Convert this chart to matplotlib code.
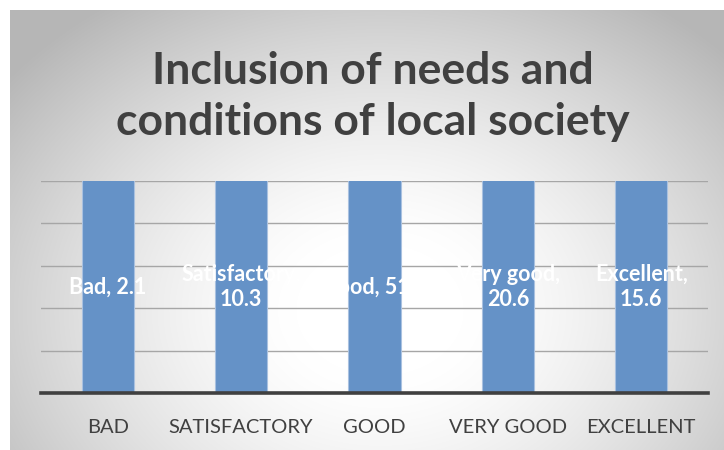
import matplotlib.pyplot as plt
import numpy as np

# data
categories = ["Bad", "Satisfactory", "Good", "Very good", "Excellent"]
values = [2.1, 10.3, 51.4, 20.6, 15.6]
axis_top = 1.0   # axis max is fixed low in the original, so every bar is cut off

plt.rcParams['font.family'] = ['Lato', 'DejaVu Sans']

fig = plt.figure(figsize=(7.24, 4.5), dpi=100)

# grey radial background panel, white in the middle
bg = fig.add_axes([10 / 724, 0, 1 - 10 / 724, 440 / 450])
yy, xx = np.mgrid[0:440, 0:714]
cx, cy = 370, 300
r = np.sqrt(((xx - cx) / 420.0) ** 2 + ((yy - cy) / 330.0) ** 2)
t = np.clip((r - 0.2) / 0.85, 0, 1.1)
shade = np.clip(1.0 - 0.25 * t ** 1.4, 0, 1)
bg.imshow(np.dstack([shade, shade, shade]), aspect='auto', origin='upper')
bg.set_axis_off()

ax = fig.add_axes([41 / 724, 57 / 450, 667 / 724, 212 / 450])
ax.patch.set_alpha(0)

x = np.arange(len(categories))
ax.bar(x, values, width=0.39, color='#6592c7', edgecolor='#a9c1e0',
       linewidth=0.8, zorder=3)

ax.set_xlim(-0.5, len(categories) - 0.5)
ax.set_ylim(0, axis_top)
ax.set_yticks(np.linspace(0, axis_top, 6))
ax.yaxis.grid(True, color='#a6a6a6', linewidth=1.0, zorder=0)
ax.set_yticklabels([])
ax.tick_params(axis='y', length=0)

for s in ['top', 'right', 'left']:
    ax.spines[s].set_visible(False)
ax.spines['bottom'].set_color('#404040')
ax.spines['bottom'].set_linewidth(2.6)
ax.spines['bottom'].set_zorder(5)

ax.set_xticks(x)
ax.set_xticklabels([c.upper() for c in categories], fontsize=14.5,
                   color='#404040')
ax.tick_params(axis='x', length=0, pad=19)

# data labels, centred in the visible part of each bar
for i, (c, v) in enumerate(zip(categories, values)):
    lab = f"{c}, {v}" if len(c) <= 4 else f"{c},\n{v}"
    ax.text(i, min(v, axis_top) / 2, lab, ha='center', va='center',
            color='white', fontsize=15.5, fontweight='bold',
            linespacing=1.25, zorder=6)

fig.text(0.515, 0.786, "Inclusion of needs and\nconditions of local society",
         ha='center', va='center', fontsize=32, fontweight='bold',
         color='#404040', linespacing=1.35)

fig.savefig("out.png", dpi=100)
